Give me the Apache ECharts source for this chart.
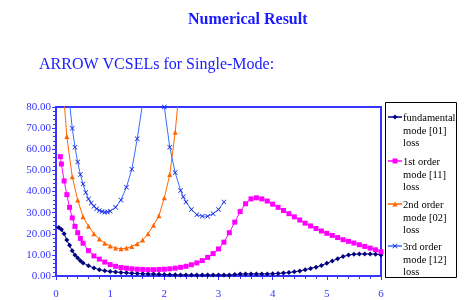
<!DOCTYPE html>
<html>
<head>
<meta charset="utf-8">
<script src="https://cdn.jsdelivr.net/npm/echarts@6/dist/echarts.min.js"></script>
<style>
  html, body { margin: 0; padding: 0; background: #fff; }
  #chart { width: 465px; height: 300px; }
</style>
</head>
<body>
<div id="chart"></div>
<script>
// 数据
var seriesNames = ["fundamental\nmode [01]\nloss", "1st order\nmode [11]\nloss", "2nd order\nmode [02]\nloss", "3rd order\nmode [12]\nloss"];
var xTicks = [0, 1, 2, 3, 4, 5, 6];

var fundX = [0.05, 0.1, 0.15, 0.2, 0.25, 0.3, 0.35, 0.4, 0.45, 0.5, 0.6, 0.7, 0.8, 0.9, 1.0, 1.1, 1.2, 1.3, 1.4, 1.5, 1.6, 1.7, 1.8, 1.9, 2.0, 2.1, 2.2, 2.3, 2.4, 2.5, 2.6, 2.7, 2.8, 2.9, 3.0, 3.1, 3.2, 3.3, 3.4, 3.5, 3.6, 3.7, 3.8, 3.9, 4.0, 4.1, 4.2, 4.3, 4.4, 4.5, 4.6, 4.7, 4.8, 4.9, 5.0, 5.1, 5.2, 5.3, 5.4, 5.5, 5.6, 5.7, 5.8, 5.9, 6.0];
var fundY = [23, 22, 20, 17, 14.5, 12, 10, 8.5, 7.2, 6.2, 4.8, 3.8, 3, 2.5, 2.1, 1.9, 1.7, 1.5, 1.3, 1.2, 1.1, 1.0, 0.9, 0.8, 0.7, 0.6, 0.6, 0.5, 0.5, 0.5, 0.5, 0.5, 0.5, 0.5, 0.5, 0.5, 0.5, 0.7, 0.9, 1.0, 1.0, 1.0, 1.0, 1.0, 1.1, 1.2, 1.4, 1.6, 2.0, 2.4, 3.0, 3.6, 4.2, 5.0, 6.0, 7.1, 8.2, 9.2, 9.9, 10.3, 10.4, 10.4, 10.4, 10.3, 10.0];

var firstX = [0.08, 0.1, 0.15, 0.2, 0.25, 0.3, 0.35, 0.4, 0.45, 0.5, 0.6, 0.7, 0.8, 0.9, 1.0, 1.1, 1.2, 1.3, 1.4, 1.5, 1.6, 1.7, 1.8, 1.9, 2.0, 2.1, 2.2, 2.3, 2.4, 2.5, 2.6, 2.7, 2.8, 2.9, 3.0, 3.1, 3.2, 3.3, 3.4, 3.5, 3.6, 3.7, 3.8, 3.9, 4.0, 4.1, 4.2, 4.3, 4.4, 4.5, 4.6, 4.7, 4.8, 4.9, 5.0, 5.1, 5.2, 5.3, 5.4, 5.5, 5.6, 5.7, 5.8, 5.9, 6.0];
var firstY = [56.5, 53, 45, 38.5, 32.5, 27.5, 23.5, 20.5, 17.8, 15.5, 12, 9.5, 8, 6.6, 5.4, 4.6, 4.0, 3.7, 3.4, 3.2, 3.1, 3.0, 3.0, 3.1, 3.2, 3.4, 3.7, 4.1, 4.6, 5.3, 6.2, 7.3, 8.8, 10.6, 12.8, 16, 20.5, 25.5, 30.5, 34.2, 36.5, 37, 36.5, 35.5, 34, 32.5, 31, 29.5, 28, 26.5, 25, 23.7, 22.5, 21.3, 20.2, 19.2, 18.2, 17.2, 16.4, 15.6, 14.8, 14, 13.2, 12.4, 11.5];

var secondX = [0.1, 0.2, 0.3, 0.4, 0.5, 0.6, 0.7, 0.8, 0.9, 1.0, 1.1, 1.2, 1.3, 1.4, 1.5, 1.6, 1.7, 1.8, 1.9, 2.0, 2.1, 2.2, 2.3];
var secondY = [100, 66, 47, 36, 28, 23.5, 20, 17.5, 15.5, 14.2, 13.3, 12.9, 13.2, 14, 15.3, 17, 20, 24, 28.5, 37, 48, 68, 95];

var thirdX = [0.25, 0.3, 0.35, 0.4, 0.45, 0.5, 0.55, 0.6, 0.65, 0.7, 0.75, 0.8, 0.85, 0.9, 0.95, 1.0, 1.1, 1.2, 1.3, 1.4, 1.5, 1.6, 1.8, 2.0, 2.1, 2.2, 2.3, 2.35, 2.4, 2.5, 2.6, 2.7, 2.8, 2.9, 3.0, 3.1];
var thirdY = [82, 70, 61, 54, 48, 43.5, 39.5, 36.5, 34.5, 33, 31.8, 31, 30.5, 30.2, 30.3, 30.7, 32.5, 36, 42, 50.5, 65, 82, "-", 80, 61, 49, 40.5, 37.5, 35, 31.5, 29, 28.3, 28.3, 29.5, 31.5, 35];

(function () {
    var myChart = echarts.init(document.getElementById("chart"));
    var serif = "Liberation Serif";
    var axisBlue = "#3535ff";
    var lineColors = ["#000080", "#ff00ff", "#ff6600", "#3a6cff"];
    var markColors = ["#000080", "#ff00ff", "#ff6600", "#0a1ee0"];

    function pairs(xs, ys) {
        return xs.map(function (x, i) { return [x, ys[i]]; });
    }

    // X 形标记
    var xPts = [[0, 1], [1, 0], [5, 4], [9, 0], [10, 1], [6, 5], [10, 9], [9, 10], [5, 6], [1, 10], [0, 9], [4, 5]];
    var xMark = "path://M" + xPts.map(function (p) { return p[0] + "," + p[1]; }).join("L") + "Z";

    // 图例（手工绘制，标记对齐第一行文字）
    var legendTop = [117, 161, 204, 246];
    var legendEls = [{
        type: "rect",
        shape: { x: 385.5, y: 102.5, width: 71, height: 175 },
        style: { fill: "#fff", stroke: "#000", lineWidth: 1 },
    }];
    legendTop.forEach(function (y, i) {
        legendEls.push({
            type: "line",
            shape: { x1: 388, y1: y, x2: 402, y2: y },
            style: { stroke: lineColors[i], lineWidth: 1.5 },
        });
        var cx = 395, s = 2.5, pts;
        if (i === 0) {
            pts = [[cx, y - s], [cx + s, y], [cx, y + s], [cx - s, y]];
        } else if (i === 1) {
            pts = [[cx - s, y - s], [cx + s, y - s], [cx + s, y + s], [cx - s, y + s]];
        } else if (i === 2) {
            pts = [[cx, y - s], [cx + s, y + s], [cx - s, y + s]];
        } else {
            pts = xPts.map(function (p) { return [cx - s + p[0] * s / 5, y - s + p[1] * s / 5]; });
        }
        legendEls.push({ type: "polygon", shape: { points: pts }, style: { fill: markColors[i] } });
        legendEls.push({
            type: "text",
            x: 403,
            y: y - 5,
            z: 10,
            style: {
                text: seriesNames[i],
                fill: "#000",
                font: "10.5px " + serif,
                lineHeight: 12.5,
            },
        });
    });

    var option = {
        animation: false,
        title: [
            {
                text: "Numerical Result",
                left: 183,
                top: 7,
                textStyle: { color: "#1a1aff", fontFamily: serif, fontSize: 16, fontWeight: "bold" },
            },
            {
                text: "ARROW VCSELs for Single-Mode:",
                left: 34,
                top: 52,
                textStyle: { color: "#1a1aff", fontFamily: serif, fontSize: 16, fontWeight: "normal" },
            },
        ],
        graphic: legendEls,
        grid: {
            left: 56,
            right: 84,
            top: 107,
            bottom: 21,
            show: true,
            borderColor: axisBlue,
            borderWidth: 2,
        },
        xAxis: {
            type: "value",
            min: 0,
            max: 6,
            interval: 1,
            axisLine: { lineStyle: { color: axisBlue, width: 2 } },
            axisTick: { lineStyle: { color: axisBlue }, length: 4 },
            minorTick: { show: true, splitNumber: 5, length: 3, lineStyle: { color: axisBlue } },
            splitLine: { show: false },
            axisLabel: {
                color: axisBlue,
                fontFamily: serif,
                fontSize: 11,
                margin: 13,
                formatter: function (v) { return xTicks.indexOf(v) >= 0 ? String(v) : ""; },
            },
        },
        yAxis: {
            type: "value",
            min: 0,
            max: 80,
            interval: 10,
            axisLine: { show: true, lineStyle: { color: axisBlue, width: 2 } },
            axisTick: { show: true, lineStyle: { color: axisBlue }, length: 4 },
            minorTick: { show: true, splitNumber: 5, length: 3, lineStyle: { color: axisBlue } },
            splitLine: { show: false },
            axisLabel: {
                color: axisBlue,
                fontFamily: serif,
                fontSize: 11,
                margin: 5,
                formatter: function (v) { return v.toFixed(2); },
            },
        },
        series: [0, 1, 2, 3].map(function (i) {
            var data = [pairs(fundX, fundY), pairs(firstX, firstY), pairs(secondX, secondY), pairs(thirdX, thirdY)][i];
            var symbols = ["diamond", "rect", "triangle", xMark];
            return {
                name: seriesNames[i],
                type: "line",
                data: data,
                symbol: symbols[i],
                symbolSize: 5,
                lineStyle: { color: lineColors[i], width: 1 },
                itemStyle: { color: markColors[i] },
            };
        }),
    };
    myChart.setOption(option);
})();
</script>
</body>
</html>
